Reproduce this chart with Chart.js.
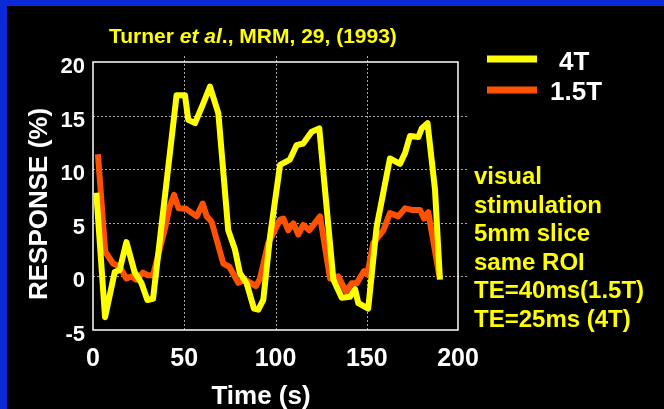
<!DOCTYPE html>
<html>
<head>
<meta charset="utf-8">
<script src="https://cdn.jsdelivr.net/npm/chart.js@4"></script>
<style>
  html, body { margin: 0; padding: 0; background: #000; }
  #wrap { position: relative; width: 664px; height: 409px; }
</style>
</head>
<body>
<div id="wrap"><canvas id="bold" width="664" height="409"></canvas></div>
<script>
// 4T curve (yellow)
const time4T = [1.8, 6.6, 11.9, 14.6, 18.3, 22.8, 26.5, 29.8, 32.9, 45.8, 50.4, 52.2, 55.9, 60.1, 64.1, 68.7,
    74.1, 77.8, 80.5, 84.2, 88.2, 90.6, 93.3, 97, 102.5, 107.9, 111.6, 115.2, 119.8, 124, 131.7, 136.3,
    140.8, 143.6, 145.4, 150.8, 155.4, 162.7, 168.2, 171, 173.7, 178.3, 180.1, 183.3, 187.4, 190.1];
const resp4T = [7.8, -3.8, 0.4, 0.6, 3.2, 0.4, -0.6, -2.2, -2.1, 16.9, 16.9, 14.6, 14.3, 16.0, 17.7, 15.2,
    4.3, 2.5, 0.3, -0.65, -3.0, -3.1, -2.2, 3.7, 10.4, 10.9, 12.25, 12.4, 13.5, 13.8, -0.3, -2.0,
    -1.9, -1.2, -2.5, -3.0, 4.6, 11.0, 10.5, 11.5, 13.1, 13.0, 13.8, 14.3, 8.1, -0.3];

// 1.5T curve (orange)
const time15T = [2.7, 6.7, 11, 14.6, 18.3, 21, 23.7, 27.4, 30.1, 32.9, 39.2, 42, 44.4, 46.9, 51, 56.8,
    60.1, 62.3, 65, 71.4, 74.7, 79.6, 83.3, 89.3, 91.5, 96, 102.5, 104.3, 107, 109.8, 112.5, 115.2,
    118.5, 124.4, 129.9, 134.4, 138.6, 141.7, 144.5, 148.5, 150.3, 153.6, 159.1, 162.7, 167.3, 171,
    174.6, 179.2, 181.4, 183.7, 189.8];
const resp15T = [11.4, 2.3, 1.2, 0.9, -0.2, 0, -0.3, 0.35, 0.1, 0.1, 4.3, 6.5, 7.6, 6.35, 6.3, 5.6,
    6.8, 5.6, 5.1, 1.2, 0.9, -0.6, -0.3, -0.9, -0.2, 3.1, 5.3, 5.4, 4.3, 4.95, 3.9, 4.8,
    4.3, 5.6, -0.2, 0.0, -1.4, -0.65, -0.65, 0.5, 0.2, 3.1, 4.3, 5.9, 5.6, 6.35,
    6.2, 6.2, 5.4, 6.0, 0.0];

const xGrid = [50, 100, 150];
const yGrid = [0, 5, 10, 15];
const notes = ['visual', 'stimulation', '5mm slice', 'same ROI', 'TE=40ms(1.5T)', 'TE=25ms (4T)'];

const FONT = '"Liberation Sans", Arial, Helvetica, sans-serif';
const YELLOW = '#ffff00';
const ORANGE = '#ff5200';

const pairs = (xs, ys) => xs.map((x, i) => ({ x: x, y: ys[i] }));

const framePlugin = {
    id: 'frame',
    beforeDraw(chart) {
        const ctx = chart.ctx;
        ctx.save();
        ctx.fillStyle = '#000';
        ctx.fillRect(0, 0, chart.width, chart.height);
        ctx.fillStyle = '#0b29d6';
        ctx.fillRect(0, 0, chart.width, 6);
        ctx.fillRect(0, 0, 7, chart.height);
        ctx.restore();
    },
    beforeDatasetsDraw(chart) {
        const ctx = chart.ctx;
        const area = chart.chartArea;
        const xs = chart.scales.x;
        const ys = chart.scales.y;
        ctx.save();
        ctx.strokeStyle = '#a8a8a8';
        ctx.lineWidth = 1;
        ctx.setLineDash([2, 2]);
        yGrid.forEach((v) => {
            const y = Math.round(ys.getPixelForValue(v)) + 0.5;
            ctx.beginPath();
            ctx.moveTo(area.left, y);
            ctx.lineTo(area.right + 9, y);
            ctx.stroke();
        });
        xGrid.forEach((v) => {
            const x = Math.round(xs.getPixelForValue(v)) + 0.5;
            ctx.beginPath();
            ctx.moveTo(x, area.bottom);
            ctx.lineTo(x, area.top - 8);
            ctx.stroke();
        });
        ctx.setLineDash([]);
        ctx.strokeStyle = '#ffffff';
        ctx.lineWidth = 1.5;
        ctx.strokeRect(area.left, area.top, area.right - area.left, area.bottom - area.top);
        ctx.restore();
    },
    afterDraw(chart) {
        const ctx = chart.ctx;
        ctx.save();
        ctx.textBaseline = 'alphabetic';
        ctx.textAlign = 'left';

        // citation
        let x = 109;
        const parts = [
            ['Turner ', 'bold'],
            ['et al', 'italic bold'],
            ['., MRM, 29, (1993)', 'bold'],
        ];
        ctx.fillStyle = YELLOW;
        parts.forEach(([txt, style]) => {
            ctx.font = style + ' 21px ' + FONT;
            ctx.fillText(txt, x, 43);
            x += ctx.measureText(txt).width;
        });

        // legend
        ctx.lineWidth = 7;
        ctx.strokeStyle = YELLOW;
        ctx.beginPath(); ctx.moveTo(487, 59); ctx.lineTo(537, 59); ctx.stroke();
        ctx.strokeStyle = ORANGE;
        ctx.beginPath(); ctx.moveTo(487, 90); ctx.lineTo(537, 90); ctx.stroke();
        ctx.fillStyle = '#ffffff';
        ctx.font = 'bold 26px ' + FONT;
        ctx.fillText('4T', 559, 70);
        ctx.fillText('1.5T', 550, 100);

        // notes
        ctx.fillStyle = YELLOW;
        ctx.font = 'bold 24px ' + FONT;
        notes.forEach((line, i) => ctx.fillText(line, 474, 184 + i * 28.6));

        // axis titles
        ctx.fillStyle = '#ffffff';
        ctx.font = 'bold 26px ' + FONT;
        ctx.textAlign = 'center';
        ctx.fillText('Time (s)', 261, 404);
        ctx.translate(47, 204);
        ctx.rotate(-Math.PI / 2);
        ctx.fillText('RESPONSE (%)', 0, 0);
        ctx.restore();
    },
};

new Chart(document.getElementById('bold'), {
    type: 'line',
    data: {
        datasets: [
            {
                label: '4T',
                data: pairs(time4T, resp4T),
                borderColor: YELLOW,
                borderWidth: 6,
                borderJoinStyle: 'round',
                pointRadius: 0,
                tension: 0,
            },
            {
                label: '1.5T',
                data: pairs(time15T, resp15T),
                borderColor: ORANGE,
                borderWidth: 6,
                borderJoinStyle: 'round',
                pointRadius: 0,
                tension: 0,
            },
        ],
    },
    options: {
        responsive: false,
        animation: false,
        events: [],
        layout: { padding: { left: 0, right: 206, top: 62, bottom: 0 } },
        plugins: {
            legend: { display: false },
            tooltip: { enabled: false },
        },
        scales: {
            x: {
                type: 'linear',
                min: 0,
                max: 200,
                grid: { display: false, drawTicks: false },
                border: { display: false },
                ticks: {
                    stepSize: 50,
                    color: '#ffffff',
                    padding: 14,
                    maxRotation: 0,
                    font: { family: FONT, size: 25, weight: 'bold' },
                },
                afterFit: (scale) => { scale.height = 79; },
            },
            y: {
                min: -5,
                max: 20,
                grid: { display: false, drawTicks: false },
                border: { display: false },
                ticks: {
                    stepSize: 5,
                    color: '#ffffff',
                    padding: 8,
                    labelOffset: 5,
                    font: { family: FONT, size: 22, weight: 'bold' },
                },
                afterFit: (scale) => { scale.width = 93; },
            },
        },
    },
    plugins: [framePlugin],
});
</script>
</body>
</html>
